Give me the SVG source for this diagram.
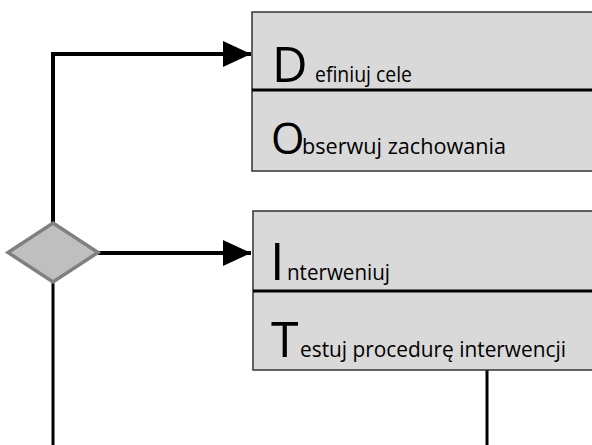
<svg xmlns="http://www.w3.org/2000/svg" width="592" height="445" viewBox="0 0 592 445">
<style>
.box{fill:#d9d9d9;stroke:#333;stroke-width:1.5}
.div{stroke:#000;stroke-width:3}
.big{font-family:"Open Sans","Liberation Sans",sans-serif;fill:#000}
.sm{font-family:"Open Sans","Liberation Sans",sans-serif;font-size:21px;fill:#000}
.conn{fill:none;stroke:#000;stroke-width:4}
.conn2{fill:none;stroke:#000;stroke-width:3}
</style>
<defs>
<marker id="arr" markerUnits="userSpaceOnUse" markerWidth="28" markerHeight="26" viewBox="0 0 28 26" refX="28" refY="13" orient="auto">
<path d="M0,0 L28,13 L0,26 Z" fill="#000"/>
</marker>
</defs>
<g id="connectors">
<path class="conn" d="M53,223 V54 H251" marker-end="url(#arr)"/>
<path class="conn" d="M98,253 H251" marker-end="url(#arr)"/>
<path class="conn2" d="M53,282 V445"/>
<path class="conn2" d="M487,370 V445"/>
</g>
<g id="decision">
<polygon points="53,223 98,252.5 53,282 8,252.5" fill="#bfbfbf" stroke="#808080" stroke-width="3.5"/>
</g>
<g id="box-do">
<rect class="box" x="252" y="12" width="345" height="159"/>
<line class="div" x1="252" y1="90" x2="592" y2="90"/>
<text class="big" x="272" y="82" font-size="49">D</text>
<text class="sm" x="315" y="82" textLength="97" lengthAdjust="spacingAndGlyphs">efiniuj cele</text>
<text class="big" x="271" y="154" font-size="43">O</text>
<text class="sm" x="302" y="154" textLength="204" lengthAdjust="spacingAndGlyphs">bserwuj zachowania</text>
</g>
<g id="box-it">
<rect class="box" x="253" y="211" width="345" height="159"/>
<line class="div" x1="253" y1="291" x2="592" y2="291"/>
<text class="big" x="270" y="280" font-size="52">I</text>
<text class="sm" x="287" y="280" textLength="103" lengthAdjust="spacingAndGlyphs">nterweniuj</text>
<text class="big" x="271" y="357" font-size="50">T</text>
<text class="sm" x="300" y="357" textLength="266" lengthAdjust="spacingAndGlyphs">estuj procedurę interwencji</text>
</g>
</svg>
